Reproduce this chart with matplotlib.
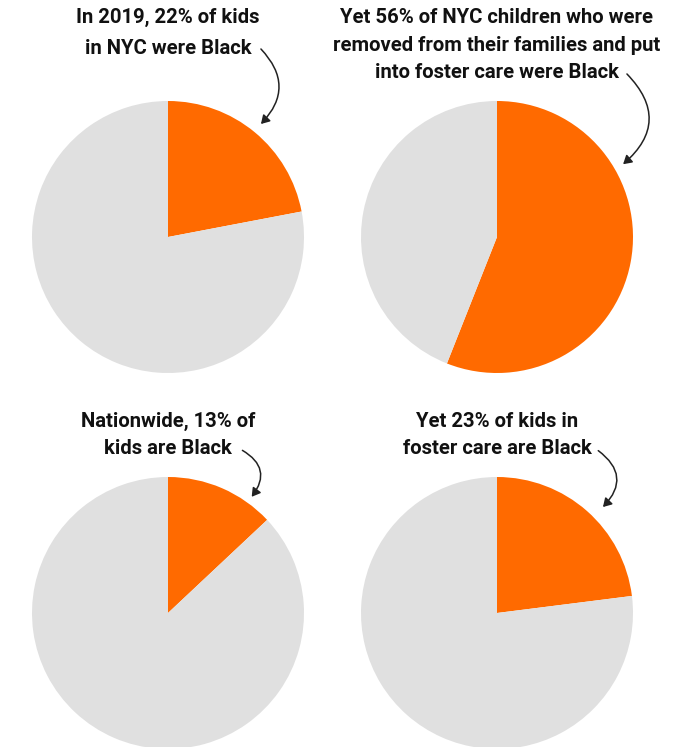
import matplotlib
matplotlib.use("Agg")
import matplotlib.pyplot as plt
from matplotlib.patches import FancyArrowPatch

W, H = 687, 747

titles = [
    "In 2019, 22% of kids\nin NYC were Black",
    "Yet 56% of NYC children who were\nremoved from their families and put\ninto foster care were Black",
    "Nationwide, 13% of\nkids are Black",
    "Yet 23% of kids in\nfoster care are Black",
]
black_share = [22, 56, 13, 23]

orange = "#FF6A00"
grey = "#E0E0E0"

# pie centres / radius, in pixels
centres = [(168, 237), (497, 237), (168, 613), (497, 613)]
radius = 136
title_y = [8, 8, 412, 412]
line_gap = [1.76, 1.58, 1.53, 1.53]
arrows = [((259, 47), (259, 126), -0.5),
          ((625, 72), (621, 166), -0.55),
          ((240, 449), (250, 499), -0.6),
          ((596, 449), (601, 509), -0.6)]

fig = plt.figure(figsize=(W / 100, H / 100), dpi=100)

for (cx, cy), share in zip(centres, black_share):
    ax = fig.add_axes([(cx - radius) / W, 1 - (cy + radius) / H,
                       2 * radius / W, 2 * radius / H])
    ax.pie([share, 100 - share], colors=[orange, grey], startangle=90,
           counterclock=False, radius=1)
    ax.set_xlim(-1, 1)
    ax.set_ylim(-1, 1)
    ax.set_aspect("auto")
    ax.axis("off")

over = fig.add_axes([0, 0, 1, 1], facecolor="none")
over.set_xlim(0, W)
over.set_ylim(H, 0)
over.axis("off")

for (cx, cy), t, ty, lg in zip(centres, titles, title_y, line_gap):
    over.text(cx, ty, t, ha="center", va="top", fontsize=14.6, fontweight="bold",
              family=["Roboto", "DejaVu Sans"], linespacing=lg,
              color="#111111")

for start, end, rad in arrows:
    a = FancyArrowPatch(start, end, connectionstyle=f"arc3,rad={rad}",
                        arrowstyle="-|>,head_length=5,head_width=3",
                        color="#222222", lw=1.1)
    over.add_patch(a)

fig.savefig("out.png", dpi=100)
